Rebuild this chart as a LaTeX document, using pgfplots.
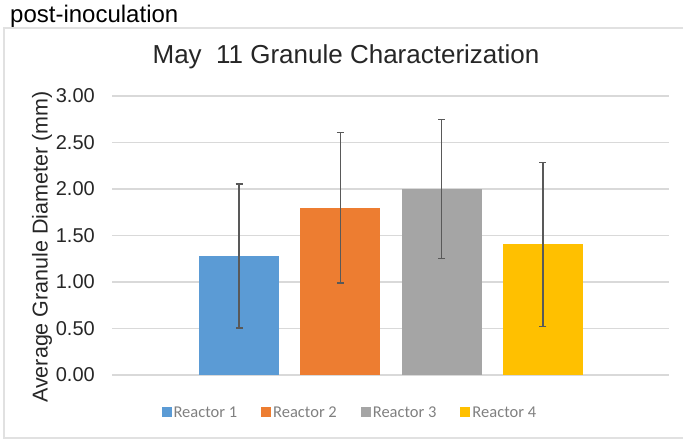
\documentclass[border=0pt]{standalone}
\usepackage{pgfplots}
\pgfplotsset{compat=1.18}
\usepackage{fontspec}
\setmainfont{Liberation Sans}
\newfontfamily\legfont{Carlito}
\definecolor{rone}{HTML}{5B9BD5}
\definecolor{rtwo}{HTML}{ED7D31}
\definecolor{rthree}{HTML}{A5A5A5}
\definecolor{rfour}{HTML}{FFC000}
\definecolor{gridgray}{HTML}{D9D9D9}
\definecolor{txt}{HTML}{262626}
\definecolor{legtxt}{HTML}{808080}
\definecolor{errc}{HTML}{595959}
\begin{document}
\begin{tikzpicture}
\useasboundingbox (0bp,0bp) rectangle (683bp,-440bp);
\draw[color=gridgray!80, line width=1.2bp] (684bp,-28bp) -- (4bp,-28bp) -- (4bp,-438bp) -- (684bp,-438bp);
\node[anchor=base west, inner sep=0pt, font=\fontsize{24bp}{28bp}\selectfont, text=black] at (10bp,-22bp) {post-inoculation};
\node[inner sep=0pt, font=\fontsize{26bp}{30bp}\selectfont, text=txt] at (346bp,-57bp) {May\ \ 11 Granule Characterization};
\node[rotate=90, inner sep=0pt, font=\fontsize{21.5bp}{26bp}\selectfont, text=txt] at (42bp,-247bp) {Average Granule Diameter (mm)};
\begin{axis}[
  at={(112bp,-375bp)}, anchor=south west,
  scale only axis, width=557bp, height=279bp,
  xmin=-1.254, xmax=4.245, ymin=0, ymax=3,
  ybar, bar width=0.79, bar shift=0pt,
  axis line style={draw=none},
  xtick=\empty,
  ytick={0,0.5,1,1.5,2,2.5,3},
  /pgf/number format/fixed, /pgf/number format/fixed zerofill, /pgf/number format/precision=2, /pgf/number format/assume math mode=true,
  yticklabel style={font=\fontsize{20bp}{22bp}\selectfont, text=txt, inner sep=0pt, xshift=-17bp},
  major tick length=0pt,
  ymajorgrids, grid style={gridgray, line width=1.3bp},
  clip=false,
  legend style={at={(axis description cs:0.427,-0.136)}, anchor=center, draw=none, fill=none,
    font=\legfont\fontsize{16.5bp}{20bp}\selectfont, text=legtxt,
    /tikz/every even column/.append style={column sep=22bp}},
  legend columns=-1,
  legend image code/.code={\fill[#1] (0bp,-4.5bp) rectangle (10bp,5.5bp);},
  error bars/y dir=both, error bars/y explicit,
  error bars/error bar style={errc, line width=1.3bp},
  error bars/error mark options={errc, line width=1.3bp, rotate=90, mark size=3.5bp},
]
\addplot[fill=rone, draw=none] coordinates {(0,1.28) +- (0,0.775)};
\addplot[fill=rtwo, draw=none] coordinates {(1,1.80) +- (0,0.81)};
\addplot[fill=rthree, draw=none] coordinates {(2,2.00) +- (0,0.745)};
\addplot[fill=rfour, draw=none] coordinates {(3,1.405) +- (0,0.88)};
\legend{Reactor 1, Reactor 2, Reactor 3, Reactor 4}
\end{axis}
\end{tikzpicture}
\end{document}
